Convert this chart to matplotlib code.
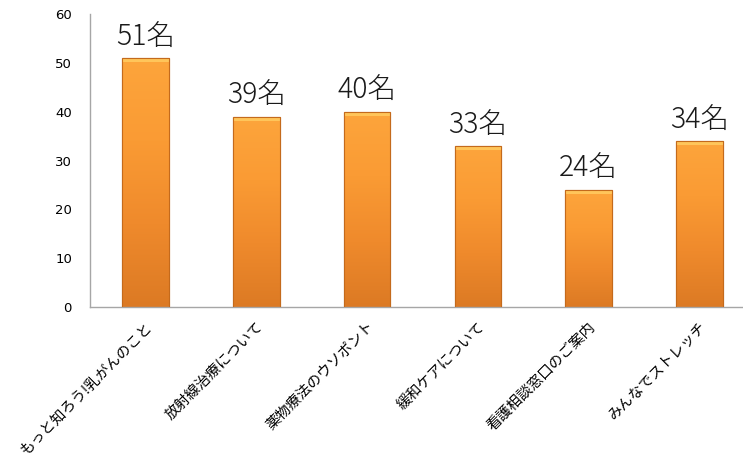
import matplotlib
matplotlib.use("Agg")
import matplotlib.pyplot as plt
import numpy as np
from matplotlib.colors import LinearSegmentedColormap

plt.rcParams["font.family"] = ["Noto Sans CJK JP", "DejaVu Sans"]

CATEGORIES = [
    "もっと知ろう!乳がんのこと",
    "放射線治療について",
    "薬物療法のウソポント",
    "緩和ケアについて",
    "看護相談窓口のご案内",
    "みんなでストレッチ",
]
COUNTS = [51, 39, 40, 33, 24, 34]
Y_TICKS = [0, 10, 20, 30, 40, 50, 60]

BAR_WIDTH = 0.42
SPINE_COLOR = "#A6A6A6"
EDGE_COLOR = "#C46A1C"

bar_cmap = LinearSegmentedColormap.from_list(
    "bar", ["#DC7A24", "#EF8A2C", "#FA9B34", "#FDA53C"]
)

fig = plt.figure(figsize=(7.43, 4.63), dpi=100)
fig.patch.set_facecolor("white")
ax = fig.add_axes([90 / 743, 1 - 307 / 463, 665 / 743, 293 / 463])

x = np.arange(len(CATEGORIES))
bars = ax.bar(x, COUNTS, width=BAR_WIDTH, color="#F39030",
              edgecolor=EDGE_COLOR, linewidth=0.8, zorder=2)

# vertical gradient inside each bar
grad = np.linspace(0, 1, 256).reshape(-1, 1)
for bar in bars:
    x0, w, h = bar.get_x(), bar.get_width(), bar.get_height()
    im = ax.imshow(grad, cmap=bar_cmap, aspect="auto", origin="lower",
                   extent=(x0, x0 + w, 0, h), zorder=2.5)
    im.set_clip_path(bar)
    # light bevel at the top
    ax.add_patch(plt.Rectangle((x0, h - 0.9), w, 0.9, facecolor="#FFC55A",
                               edgecolor="none", zorder=2.6))
    ax.add_patch(plt.Rectangle((x0, 0), w, h, facecolor="none",
                               edgecolor=EDGE_COLOR, linewidth=0.8, zorder=2.7))

for xi, val in zip(x, COUNTS):
    ax.text(xi, val + 1.3, f"{val}名", ha="center", va="bottom",
            fontsize=20.5, fontweight="light", color="#1A1A1A", zorder=3)

ax.set_xlim(-0.5, len(CATEGORIES) - 0.5)
ax.set_ylim(0, 60)
ax.set_yticks(Y_TICKS)
ax.set_yticklabels([str(t) for t in Y_TICKS], fontsize=9.5, family="DejaVu Sans")
ax.set_xticks(x)
ax.set_xticklabels(CATEGORIES, rotation=45, ha="right", rotation_mode="anchor",
                   fontsize=10.5)
ax.tick_params(axis="both", length=0)
ax.tick_params(axis="y", pad=13)
ax.tick_params(axis="x", pad=9)

for side in ["top", "right"]:
    ax.spines[side].set_visible(False)
for side in ["left", "bottom"]:
    ax.spines[side].set_color(SPINE_COLOR)
    ax.spines[side].set_linewidth(1.0)

fig.savefig("out.png", dpi=100, facecolor="white")
